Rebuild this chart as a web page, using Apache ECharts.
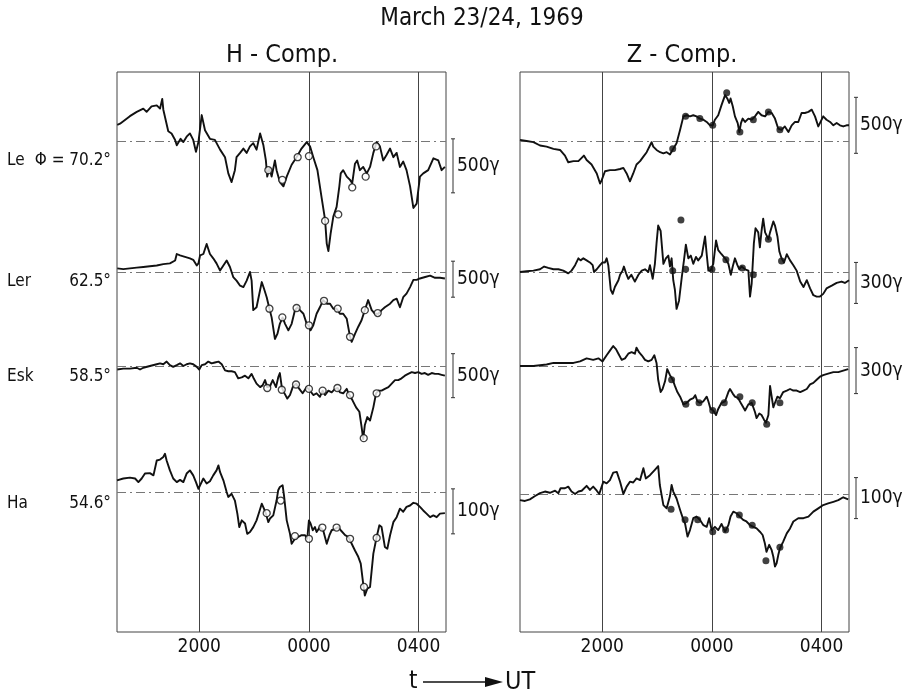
<!DOCTYPE html>
<html><head><meta charset="utf-8">
<script src="https://cdn.jsdelivr.net/npm/echarts@6/dist/echarts.min.js"></script>
<style>html,body{margin:0;padding:0;background:#fff}#c{width:914px;height:693px}</style>
</head><body><div id="c"></div>
<script>
const FONT = "'DejaVu Sans Condensed','Liberation Sans Narrow','DejaVu Sans',sans-serif";

// x values in hours UT (24 = 0000 on March 24, 28 = 0400)
const tickHours = [20, 24, 28];
const tickLabels = ['2000', '0000', '0400'];
const stationNames = ['Le', 'Ler', 'Esk', 'Ha'];
const stationLats = ['\u03A6 = 70.2\u00B0', '62.5\u00B0', '58.5\u00B0', '54.6\u00B0'];
const scaleLabelsH = ['500\u03B3', '500\u03B3', '500\u03B3', '100\u03B3'];
const scaleLabelsZ = ['500\u03B3', '300\u03B3', '300\u03B3', '100\u03B3'];
// scale bar extents (gamma, relative to each trace baseline)
const scaleBarsH = [[20, -480], [150, -350], [140, -360], [7, -93]];
const scaleBarsZ = [[390, -110], [70, -230], [120, -180], [40, -60]];

// ---- H component deviations (gamma) ----
const leH = [[17.01,150],[17.11,160],[17.47,230],[17.72,270],[17.96,300],[18.08,270],[18.26,320],[18.45,330],[18.57,300],[18.65,390],[18.69,290],[18.87,90],[18.99,70],[19.12,10],[19.18,-40],[19.32,20],[19.42,-10],[19.54,40],[19.66,70],[19.78,10],[19.88,-100],[19.97,-10],[20.09,240],[20.21,100],[20.39,20],[20.57,10],[20.76,-80],[20.94,-150],[21.06,-300],[21.18,-380],[21.30,-270],[21.36,-150],[21.49,-110],[21.61,-70],[21.73,-110],[21.85,-50],[21.97,-20],[22.09,-80],[22.22,70],[22.34,-40],[22.43,-180],[22.48,-330],[22.56,-250],[22.64,-330],[22.76,-180],[22.82,-270],[22.94,-380],[23.07,-420],[23.19,-330],[23.37,-220],[23.55,-150],[23.73,-70],[23.92,-10],[24.04,-50],[24.16,-150],[24.31,-270],[24.46,-520],[24.59,-730],[24.65,-950],[24.71,-1020],[24.79,-860],[24.89,-700],[25.01,-610],[25.11,-420],[25.16,-300],[25.25,-270],[25.38,-330],[25.50,-360],[25.58,-390],[25.68,-210],[25.76,-180],[25.86,-270],[25.98,-240],[26.11,-300],[26.23,-240],[26.35,-110],[26.47,-10],[26.59,-50],[26.71,-180],[26.83,-130],[26.96,-70],[27.08,-150],[27.20,-110],[27.32,-240],[27.44,-190],[27.56,-270],[27.69,-420],[27.81,-620],[27.93,-580],[28.05,-330],[28.17,-300],[28.35,-270],[28.54,-160],[28.72,-180],[28.84,-270],[28.96,-240]];
const leHMarks = [[22.52,-270],[23.03,-360],[23.59,-150],[24.00,-140],[24.59,-740],[25.07,-680],[25.58,-430],[26.07,-330],[26.45,-50]];

const lerH = [[17.01,50],[17.23,40],[17.47,50],[17.72,60],[17.96,70],[18.20,80],[18.45,90],[18.69,110],[18.93,120],[19.12,160],[19.18,250],[19.30,230],[19.48,210],[19.66,190],[19.78,170],[19.91,90],[19.97,120],[20.03,230],[20.15,250],[20.27,390],[20.39,250],[20.51,190],[20.63,120],[20.76,20],[20.88,90],[21.00,160],[21.12,70],[21.24,-70],[21.36,-120],[21.49,-190],[21.61,-210],[21.73,-120],[21.85,0],[21.91,-120],[21.97,-530],[22.09,-490],[22.22,-250],[22.28,-140],[22.36,-230],[22.46,-350],[22.56,-510],[22.64,-630],[22.76,-930],[22.85,-860],[22.94,-720],[23.04,-630],[23.13,-720],[23.25,-810],[23.37,-720],[23.49,-530],[23.58,-490],[23.67,-530],[23.80,-580],[23.92,-720],[24.00,-750],[24.06,-810],[24.16,-740],[24.28,-580],[24.40,-490],[24.52,-390],[24.65,-440],[24.77,-440],[24.89,-510],[25.01,-510],[25.13,-580],[25.25,-580],[25.38,-650],[25.50,-900],[25.56,-970],[25.68,-860],[25.80,-760],[25.92,-670],[26.04,-530],[26.16,-390],[26.29,-530],[26.41,-580],[26.53,-580],[26.65,-530],[26.77,-490],[26.96,-440],[27.08,-390],[27.20,-370],[27.32,-490],[27.44,-350],[27.56,-300],[27.69,-210],[27.81,-110],[27.93,-110],[28.05,-90],[28.24,-70],[28.42,-50],[28.60,-80],[28.78,-80],[28.96,-90]];
const lerHMarks = [[22.56,-510],[23.03,-630],[23.55,-500],[24.00,-740],[24.55,-400],[25.05,-510],[25.50,-900],[26.04,-530],[26.51,-570]];

const eskH = [[17.01,-40],[17.23,-30],[17.47,-30],[17.72,-20],[17.84,-40],[17.96,-20],[18.20,0],[18.45,20],[18.57,30],[18.69,20],[18.81,50],[18.93,10],[19.05,-10],[19.18,10],[19.30,30],[19.42,0],[19.54,20],[19.66,30],[19.78,20],[19.91,-10],[20.00,-40],[20.09,10],[20.21,20],[20.33,50],[20.45,30],[20.57,40],[20.70,50],[20.82,20],[20.94,-50],[21.06,-60],[21.18,-60],[21.30,-70],[21.42,-140],[21.55,-130],[21.67,-110],[21.79,-140],[21.91,-90],[21.97,-130],[22.09,-200],[22.22,-240],[22.31,-220],[22.40,-160],[22.48,-240],[22.58,-230],[22.68,-160],[22.80,-240],[22.88,-130],[22.94,-80],[23.01,-240],[23.09,-300],[23.21,-370],[23.31,-330],[23.41,-240],[23.53,-200],[23.65,-260],[23.77,-310],[23.92,-240],[24.04,-280],[24.16,-330],[24.28,-310],[24.40,-350],[24.50,-280],[24.59,-330],[24.71,-280],[24.83,-300],[24.95,-260],[25.05,-250],[25.13,-300],[25.25,-310],[25.38,-260],[25.44,-310],[25.50,-310],[25.59,-390],[25.72,-470],[25.84,-520],[25.92,-690],[25.98,-830],[26.04,-670],[26.13,-580],[26.23,-620],[26.35,-470],[26.45,-310],[26.53,-280],[26.65,-280],[26.77,-260],[26.90,-240],[27.02,-200],[27.14,-160],[27.26,-160],[27.38,-140],[27.50,-110],[27.62,-90],[27.75,-70],[27.87,-80],[27.99,-70],[28.11,-90],[28.23,-80],[28.35,-100],[28.48,-80],[28.60,-90],[28.72,-90],[28.84,-100],[28.96,-110]];
const eskHMarks = [[22.48,-250],[23.01,-270],[23.53,-210],[24.00,-260],[24.50,-280],[25.04,-250],[25.50,-330],[26.00,-820],[26.47,-310]];

const haH = [[17.00,26],[17.23,30],[17.47,32],[17.66,30],[17.78,22],[17.90,30],[18.02,41],[18.20,42],[18.33,37],[18.45,70],[18.57,72],[18.69,78],[18.75,85],[18.81,70],[18.93,48],[19.05,30],[19.18,22],[19.30,27],[19.42,22],[19.54,41],[19.66,48],[19.78,37],[19.88,22],[19.97,7],[20.03,15],[20.15,30],[20.27,19],[20.39,24],[20.51,37],[20.63,48],[20.70,59],[20.76,44],[20.88,26],[21.00,0],[21.06,-11],[21.18,-4],[21.30,-19],[21.39,-48],[21.46,-78],[21.55,-63],[21.67,-70],[21.75,-93],[21.85,-89],[21.97,-78],[22.09,-63],[22.19,-44],[22.28,-26],[22.36,-37],[22.43,-48],[22.52,-67],[22.58,-59],[22.70,-52],[22.82,-19],[22.88,4],[22.94,11],[23.04,15],[23.09,-7],[23.19,-63],[23.31,-93],[23.37,-115],[23.49,-104],[23.61,-100],[23.73,-96],[23.86,-96],[23.94,-104],[24.00,-63],[24.06,-70],[24.14,-85],[24.22,-78],[24.28,-89],[24.40,-78],[24.52,-85],[24.65,-115],[24.75,-96],[24.83,-85],[24.95,-82],[25.07,-78],[25.16,-85],[25.32,-96],[25.44,-100],[25.56,-115],[25.68,-130],[25.80,-144],[25.89,-159],[25.98,-204],[26.04,-230],[26.13,-215],[26.23,-211],[26.35,-137],[26.47,-100],[26.57,-74],[26.65,-78],[26.71,-100],[26.77,-122],[26.86,-126],[26.96,-96],[27.08,-67],[27.20,-56],[27.32,-37],[27.44,-44],[27.56,-33],[27.69,-30],[27.81,-24],[27.93,-26],[28.05,-33],[28.17,-41],[28.29,-48],[28.42,-56],[28.54,-52],[28.66,-56],[28.78,-48],[28.96,-47]];
const haHMarks = [[22.46,-47],[22.97,-19],[23.49,-98],[24.00,-104],[24.49,-79],[25.01,-79],[25.50,-104],[26.01,-211],[26.47,-102]];

// ---- Z component deviations (gamma) ----
const leZ = [[17.00,10],[17.24,0],[17.49,-10],[17.73,-40],[17.97,-50],[18.22,-70],[18.46,-80],[18.64,-130],[18.76,-190],[18.95,-180],[19.13,-180],[19.25,-150],[19.33,-130],[19.43,-170],[19.61,-210],[19.80,-290],[19.92,-380],[19.98,-350],[20.10,-270],[20.28,-260],[20.46,-260],[20.65,-250],[20.77,-240],[20.89,-290],[21.01,-360],[21.13,-290],[21.25,-210],[21.38,-180],[21.50,-140],[21.62,-100],[21.74,-40],[21.80,-10],[21.86,-50],[21.98,-80],[22.11,-100],[22.23,-110],[22.35,-100],[22.47,-120],[22.59,-70],[22.71,-20],[22.84,100],[22.96,220],[23.08,230],[23.20,220],[23.32,230],[23.44,220],[23.56,200],[23.69,190],[23.81,170],[23.93,140],[24.03,140],[24.11,190],[24.23,230],[24.35,320],[24.48,410],[24.56,380],[24.63,340],[24.68,380],[24.76,310],[24.84,220],[24.94,160],[25.00,80],[25.06,160],[25.12,200],[25.21,170],[25.33,200],[25.45,190],[25.57,220],[25.69,260],[25.81,230],[25.94,220],[26.06,260],[26.18,250],[26.30,200],[26.42,110],[26.54,100],[26.66,130],[26.79,80],[26.91,140],[27.03,170],[27.15,170],[27.27,250],[27.39,250],[27.52,260],[27.64,280],[27.76,220],[27.88,130],[27.94,160],[28.06,220],[28.18,190],[28.31,170],[28.43,140],[28.55,160],[28.67,140],[28.79,130],[28.91,140],[29.00,140]];
const leZMarks = [[22.57,-70],[23.04,220],[23.56,200],[24.03,140],[24.54,430],[25.02,80],[25.51,190],[26.06,260],[26.48,100]];

const lerZ = [[17.00,0],[17.24,5],[17.49,10],[17.73,20],[17.88,40],[18.03,30],[18.22,20],[18.40,20],[18.58,10],[18.76,-10],[18.88,10],[19.01,50],[19.13,100],[19.21,85],[19.31,100],[19.43,85],[19.55,70],[19.65,50],[19.70,0],[19.80,20],[19.92,50],[20.01,70],[20.10,70],[20.16,100],[20.22,50],[20.31,-130],[20.38,-160],[20.46,-110],[20.59,-60],[20.65,-20],[20.74,10],[20.79,40],[20.87,-10],[20.95,-50],[21.06,-20],[21.19,-70],[21.32,-20],[21.44,10],[21.56,20],[21.68,0],[21.74,50],[21.84,-50],[21.92,60],[21.98,210],[22.04,340],[22.13,300],[22.23,60],[22.32,100],[22.41,120],[22.47,40],[22.53,100],[22.59,-60],[22.65,-130],[22.71,-270],[22.80,-210],[22.90,-40],[22.98,85],[23.05,200],[23.14,100],[23.23,120],[23.32,60],[23.42,110],[23.50,85],[23.63,120],[23.75,260],[23.81,130],[23.87,10],[23.95,10],[24.05,60],[24.15,230],[24.23,160],[24.35,130],[24.48,100],[24.60,60],[24.69,-20],[24.76,40],[24.84,100],[24.93,50],[25.00,20],[25.08,40],[25.21,20],[25.33,10],[25.39,-180],[25.45,-85],[25.53,210],[25.59,320],[25.69,290],[25.75,180],[25.81,300],[25.87,390],[25.94,290],[26.06,240],[26.12,290],[26.24,370],[26.30,340],[26.39,260],[26.46,150],[26.54,100],[26.63,70],[26.73,130],[26.85,85],[26.97,50],[27.09,10],[27.22,-70],[27.34,-110],[27.46,-60],[27.58,-120],[27.70,-170],[27.82,-180],[27.94,-180],[28.06,-160],[28.18,-120],[28.37,-100],[28.55,-80],[28.73,-70],[28.85,-80],[29.00,-60]];
const lerZMarks = [[22.57,10],[22.87,380],[23.04,20],[24.00,20],[24.51,90],[25.11,30],[25.51,-20],[26.06,240],[26.54,80]];

const eskZ = [[17.00,0],[17.49,0],[17.97,10],[18.22,20],[18.58,20],[18.95,20],[19.19,30],[19.43,50],[19.67,40],[19.86,50],[20.01,30],[20.16,70],[20.28,100],[20.40,130],[20.50,110],[20.59,80],[20.71,40],[20.83,50],[20.95,80],[21.07,90],[21.19,80],[21.25,120],[21.34,90],[21.44,70],[21.56,40],[21.68,30],[21.80,40],[21.90,70],[21.98,20],[22.04,-90],[22.13,-170],[22.20,-150],[22.29,-100],[22.37,-20],[22.47,-60],[22.57,-90],[22.65,-130],[22.74,-170],[22.84,-200],[22.96,-250],[23.08,-240],[23.20,-220],[23.32,-210],[23.39,-190],[23.47,-230],[23.56,-240],[23.69,-230],[23.81,-200],[23.87,-230],[23.95,-280],[24.05,-290],[24.15,-320],[24.23,-280],[24.35,-240],[24.48,-230],[24.60,-170],[24.66,-150],[24.76,-180],[24.84,-200],[24.96,-210],[25.08,-250],[25.21,-290],[25.33,-250],[25.45,-240],[25.57,-300],[25.63,-340],[25.73,-310],[25.81,-320],[25.90,-350],[25.97,-370],[26.06,-320],[26.12,-130],[26.18,-120],[26.24,-270],[26.30,-240],[26.39,-200],[26.48,-210],[26.60,-170],[26.73,-160],[26.85,-150],[26.97,-160],[27.09,-160],[27.22,-170],[27.34,-160],[27.46,-150],[27.58,-120],[27.70,-110],[27.82,-90],[27.94,-70],[28.06,-60],[28.24,-50],[28.43,-40],[28.61,-40],[28.79,-30],[28.97,-20]];
const eskZMarks = [[22.53,-90],[23.05,-250],[23.53,-240],[24.03,-290],[24.45,-240],[25.02,-200],[25.47,-240],[26.00,-380],[26.48,-240]];

const haZ = [[17.00,-15],[17.18,-17],[17.36,-13],[17.55,-5],[17.73,2],[17.91,6],[18.09,3],[18.28,8],[18.40,2],[18.48,14],[18.64,14],[18.76,18],[18.88,6],[19.01,0],[19.13,6],[19.25,8],[19.43,20],[19.55,10],[19.67,18],[19.80,8],[19.89,0],[19.98,18],[20.04,30],[20.16,26],[20.28,34],[20.40,52],[20.53,54],[20.65,30],[20.77,0],[20.89,18],[21.01,30],[21.13,28],[21.25,38],[21.38,34],[21.50,63],[21.59,38],[21.74,46],[21.92,59],[22.04,68],[22.10,22],[22.23,-27],[22.35,-35],[22.47,-5],[22.53,22],[22.59,6],[22.71,-11],[22.84,-39],[22.96,-63],[23.02,-72],[23.11,-104],[23.20,-88],[23.32,-59],[23.44,-55],[23.56,-63],[23.69,-76],[23.81,-80],[23.90,-59],[23.99,-88],[24.11,-80],[24.23,-88],[24.35,-73],[24.48,-92],[24.60,-76],[24.68,-55],[24.78,-43],[24.90,-47],[25.02,-55],[25.14,-63],[25.26,-67],[25.39,-76],[25.51,-80],[25.63,-84],[25.75,-92],[25.85,-100],[25.93,-120],[25.99,-141],[26.09,-124],[26.18,-137],[26.24,-153],[26.30,-177],[26.36,-169],[26.42,-149],[26.48,-133],[26.60,-116],[26.73,-96],[26.85,-84],[26.97,-67],[27.15,-59],[27.34,-59],[27.52,-55],[27.70,-43],[27.88,-35],[28.06,-27],[28.24,-23],[28.43,-19],[28.61,-15],[28.79,-8],[28.97,-13]];
const haZMarks = [[22.51,-37],[23.02,-63],[23.48,-63],[24.03,-92],[24.50,-88],[25.00,-51],[25.47,-76],[25.97,-163],[26.48,-130]];

// ---------------- layout ----------------
const PANEL_TOP = 72, PANEL_H = 560;
const panels = [
  { left: 117, width: 329, traces: [leH, lerH, eskH, haH], marks: [leHMarks, lerHMarks, eskHMarks, haHMarks],
    markStyle: 'open', bars: scaleBarsH, barLabels: scaleLabelsH,
    layout: [{ base: 141, gpp: 500/54 }, { base: 272, gpp: 500/36 }, { base: 366, gpp: 500/44 }, { base: 492, gpp: 100/45 }] },
  { left: 520, width: 329, traces: [leZ, lerZ, eskZ, haZ], marks: [leZMarks, lerZMarks, eskZMarks, haZMarks],
    markStyle: 'filled', bars: scaleBarsZ, barLabels: scaleLabelsZ,
    layout: [{ base: 141, gpp: 500/56 }, { base: 272, gpp: 300/41 }, { base: 366, gpp: 300/46 }, { base: 494, gpp: 100/41 }] }
];

const grid = [], xAxis = [], yAxis = [], series = [];
panels.forEach((p, pi) => {
  grid.push({ left: p.left, top: PANEL_TOP, width: p.width, height: PANEL_H, show: true,
    borderColor: '#444', borderWidth: 1, backgroundColor: 'transparent' });
  xAxis.push({ gridIndex: pi, type: 'value', min: 17, max: 29,
    axisLine: { show: false }, axisTick: { show: false }, splitLine: { show: false },
    axisLabel: { customValues: tickHours, margin: 6, color: '#111', fontSize: 19, fontFamily: FONT,
      formatter: v => { const i = tickHours.indexOf(v); return i >= 0 ? tickLabels[i] : ''; } } });
  p.layout.forEach((L, si) => {
    const yi = yAxis.length;
    yAxis.push({ gridIndex: pi, type: 'value', show: false,
      max: (L.base - PANEL_TOP) * L.gpp, min: -(PANEL_TOP + PANEL_H - L.base) * L.gpp,
      splitLine: { show: false } });
    const mlData = [{ yAxis: 0, lineStyle: { type: [9, 4, 2, 4], color: '#777', width: 1 } }];
    if (si === 0) tickHours.forEach(h => mlData.push({ xAxis: h, lineStyle: { type: 'solid', color: '#444', width: 1 } }));
    series.push({ type: 'line', xAxisIndex: pi, yAxisIndex: yi, data: p.traces[si],
      showSymbol: false, symbol: 'none', animation: false, silent: true, z: 3,
      lineStyle: { color: '#111', width: 1.9, join: 'round' },
      markLine: { silent: true, symbol: 'none', label: { show: false }, animation: false, data: mlData, z: 1 } });
    series.push({ type: 'scatter', xAxisIndex: pi, yAxisIndex: yi, data: p.marks[si], animation: false, silent: true, z: 4,
      symbol: 'circle', symbolSize: 7,
      itemStyle: p.markStyle === 'open' ? { color: '#fff', borderColor: '#111', borderWidth: 1.3 } : { color: '#111' } });
    const lbl = p.barLabels[si];
    series.push({ type: 'custom', xAxisIndex: pi, yAxisIndex: yi, data: [p.bars[si]], animation: false, silent: true, clip: false,
      renderItem: (params, api) => {
        const a = api.coord([29, api.value(0)]);
        const b = api.coord([29, api.value(1)]);
        const x = a[0] + 7;
        const st = { stroke: '#333', lineWidth: 1 };
        return { type: 'group', children: [
          { type: 'line', shape: { x1: x, y1: a[1], x2: x, y2: b[1] }, style: st },
          { type: 'line', shape: { x1: x - 2, y1: a[1], x2: x + 2, y2: a[1] }, style: st },
          { type: 'line', shape: { x1: x - 2, y1: b[1], x2: x + 2, y2: b[1] }, style: st },
          { type: 'text', style: { text: lbl, x: x + 4, y: (a[1] + b[1]) / 2, verticalAlign: 'middle', align: 'left',
              fill: '#111', font: '19px ' + FONT } }
        ] };
      } });
  });
});

const graphic = [
  { type: 'text', x: 482, y: 19, style: { text: 'March 23/24, 1969', fill: '#111', font: '24px ' + FONT, align: 'center', verticalAlign: 'middle' } },
  { type: 'text', x: 282, y: 55, style: { text: 'H - Comp.', fill: '#111', font: '25px ' + FONT, align: 'center', verticalAlign: 'middle' } },
  { type: 'text', x: 682, y: 55, style: { text: 'Z - Comp.', fill: '#111', font: '25px ' + FONT, align: 'center', verticalAlign: 'middle' } },
  { type: 'text', x: 409, y: 682, style: { text: 't', fill: '#111', font: '24px ' + FONT, align: 'left', verticalAlign: 'middle' } },
  { type: 'line', shape: { x1: 423, y1: 682, x2: 488, y2: 682 }, style: { stroke: '#111', lineWidth: 1.3 } },
  { type: 'polygon', shape: { points: [[485, 677], [503, 682], [485, 687]] }, style: { fill: '#111' } },
  { type: 'text', x: 505, y: 682, style: { text: 'UT', fill: '#111', font: '25px ' + FONT, align: 'left', verticalAlign: 'middle' } }
];
const labelYs = [161, 282, 377, 504];
stationNames.forEach((n, i) => {
  graphic.push({ type: 'text', x: 7, y: labelYs[i], style: { text: n, fill: '#111', font: '17px ' + FONT, align: 'left', verticalAlign: 'middle' } });
  graphic.push({ type: 'text', x: 111, y: labelYs[i], style: { text: stationLats[i], fill: '#111', font: '17px ' + FONT, align: 'right', verticalAlign: 'middle' } });
});

const chart = echarts.init(document.getElementById('c'), null, { renderer: 'canvas' });
chart.setOption({ backgroundColor: '#fff', animation: false, grid, xAxis, yAxis, series, graphic });
</script></body></html>
